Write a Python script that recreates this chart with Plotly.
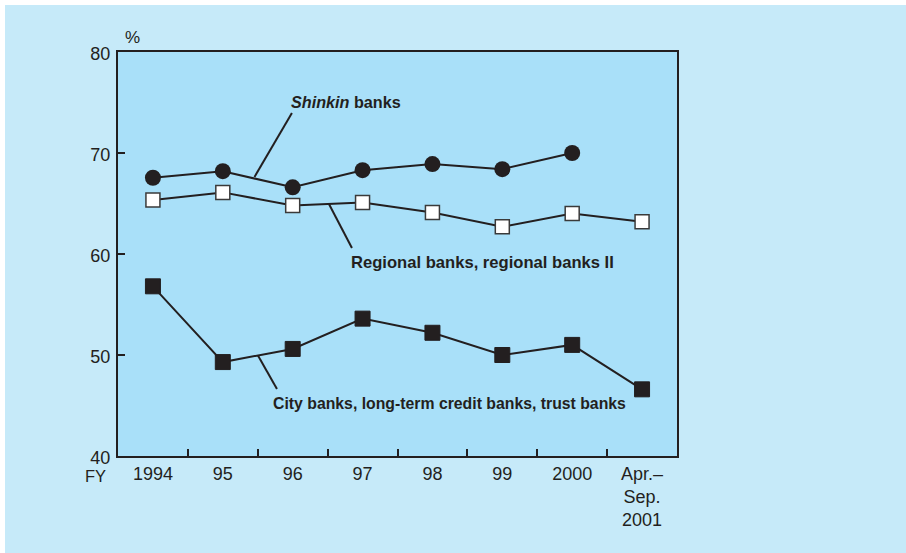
import plotly.graph_objects as go

# Fiscal-year categories on the horizontal axis
periods = ["1994", "95", "96", "97", "98", "99", "2000", "Apr.–<br>Sep.<br>2001"]

# Ratio (%) by bank group
shinkin = [67.55, 68.2, 66.6, 68.3, 68.9, 68.4, 70.0, None]
regional = [65.35, 66.1, 64.8, 65.1, 64.1, 62.7, 64.0, 63.2]
city = [56.8, 49.3, 50.6, 53.6, 52.2, 50.0, 51.0, 46.6]

y_ticks = [40, 50, 60, 70, 80]

INK = "#231f20"
PLOT_BG = "#a9e0f9"
PAPER_BG = "#c6eaf9"
TICK_FONT = "Liberation Sans, Arial, sans-serif"
LABEL_FONT = "Liberation Sans Narrow, Liberation Sans, Arial Narrow, sans-serif"

W, H = 906, 553
ML, MR, MT, MB = 118, 229, 52, 97

fig = go.Figure()

line_style = dict(color=INK, width=2)

fig.add_trace(go.Scatter(
    x=periods, y=city, mode="lines+markers", line=line_style,
    marker=dict(symbol="square", size=15, color=INK, line=dict(color=INK, width=1)),
    showlegend=False, hoverinfo="skip"))

fig.add_trace(go.Scatter(
    x=periods, y=regional, mode="lines+markers", line=line_style,
    marker=dict(symbol="square", size=14, color="white", line=dict(color="#3a3a3a", width=1.5)),
    showlegend=False, hoverinfo="skip"))

fig.add_trace(go.Scatter(
    x=periods, y=shinkin, mode="lines+markers", line=line_style,
    marker=dict(symbol="circle", size=16, color=INK, line=dict(color=INK, width=0)),
    showlegend=False, hoverinfo="skip"))

# Leader lines from the series labels to their lines (x in category index units)
leaders = [
    (1.989, 73.96, 1.453, 67.62),
    (2.519, 64.95, 2.848, 60.59),
    (1.503, 49.96, 1.775, 46.63),
]
for x0, y0, x1, y1 in leaders:
    fig.add_shape(type="line", xref="x", yref="y", x0=x0, y0=y0, x1=x1, y1=y1,
                  line=dict(color=INK, width=2), layer="below")


def px_x(px):
    return (px - ML) / (W - ML - MR)


def px_y(py):
    return (H - MB - py) / (H - MT - MB)


fig.add_annotation(text="<b><i>Shinkin</i> banks</b>", xref="paper", yref="paper",
                   x=px_x(289), y=px_y(102), xanchor="left", yanchor="middle",
                   showarrow=False, font=dict(family=LABEL_FONT, size=16.2, color=INK))
fig.add_annotation(text="<b>Regional banks, regional banks II</b>", xref="paper", yref="paper",
                   x=px_x(349), y=px_y(262), xanchor="left", yanchor="middle",
                   showarrow=False, font=dict(family=LABEL_FONT, size=16.6, color=INK))
fig.add_annotation(text="<b>City banks, long-term credit banks, trust banks</b>", xref="paper",
                   yref="paper", x=px_x(271), y=px_y(403), xanchor="left", yanchor="middle",
                   showarrow=False, font=dict(family=LABEL_FONT, size=15.8, color=INK))

tick_font = dict(family=TICK_FONT, size=18, color=INK)
fig.add_annotation(text="%", xref="paper", yref="paper", x=px_x(123), y=px_y(38),
                   xanchor="left", yanchor="middle", showarrow=False,
                   font=dict(family=TICK_FONT, size=17, color=INK))
fig.add_annotation(text="FY", xref="paper", yref="paper", x=px_x(83), y=px_y(476),
                   xanchor="left", yanchor="middle", showarrow=False,
                   font=dict(family=TICK_FONT, size=16.5, color=INK))

# White edge strips along the top and left of the page
fig.add_shape(type="rect", xref="paper", yref="paper", x0=px_x(0), x1=px_x(W), y0=px_y(5),
              y1=px_y(0), fillcolor="white", line=dict(width=0), layer="below")
fig.add_shape(type="rect", xref="paper", yref="paper", x0=px_x(0), x1=px_x(5), y0=px_y(H),
              y1=px_y(0), fillcolor="white", line=dict(width=0), layer="below")

fig.update_layout(
    width=W, height=H,
    margin=dict(l=ML, r=MR, t=MT, b=MB, pad=0),
    paper_bgcolor=PAPER_BG, plot_bgcolor=PLOT_BG,
    showlegend=False,
)

fig.update_xaxes(
    type="category", categoryorder="array", categoryarray=periods,
    range=[-0.5, len(periods) - 0.5],
    tickson="boundaries", ticks="inside", ticklen=7, tickwidth=1.5, tickcolor=INK,
    showline=True, linecolor=INK, linewidth=2, mirror=True,
    showgrid=False, zeroline=False, tickfont=tick_font, fixedrange=True,
)
fig.update_yaxes(
    range=[40, 80], tickvals=y_ticks, ticktext=[str(v) for v in y_ticks],
    ticks="inside", ticklen=7, tickwidth=1.5, tickcolor=INK, ticklabelstandoff=2,
    ticklabelshift=2,
    showline=True, linecolor=INK, linewidth=2, mirror=True,
    showgrid=False, zeroline=False, tickfont=tick_font, fixedrange=True,
)

fig.write_html("out.html", config={"displayModeBar": False})
